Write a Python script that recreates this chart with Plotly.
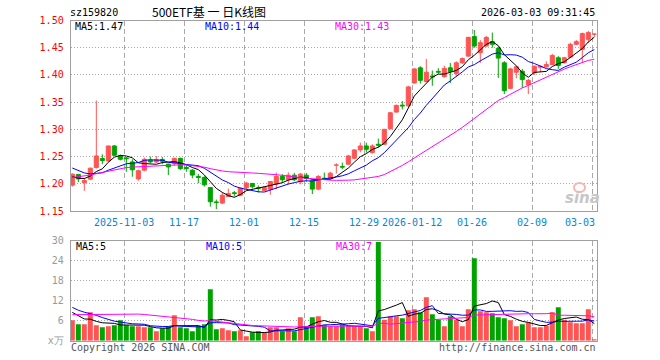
import plotly.graph_objects as go
import pandas as pd

# ---------------- data ----------------
tick_index = [9, 19, 29, 39, 49, 57, 67, 77, 87]
tick_labels = ["2025-11-03", "11-17", "12-01", "12-15", "12-29",
               "2026-01-12", "01-26", "02-09", "03-03"]

opens = [1.1975, 1.217, 1.202, 1.2085, 1.2298, 1.2463, 1.242, 1.2695, 1.2512, 1.2475,
         1.2402, 1.209, 1.225, 1.2433, 1.240, 1.2445, 1.236, 1.2378, 1.2467, 1.230,
         1.225, 1.2135, 1.2115, 1.193, 1.1667, 1.1645, 1.1767, 1.1835, 1.179, 1.1925,
         1.2006, 1.1927, 1.1878, 1.190, 1.1994, 1.2134, 1.2073, 1.2158, 1.2036, 1.2158,
         1.2055, 1.1902, 1.2103, 1.2097, 1.2341, 1.2317, 1.236, 1.2469, 1.2622, 1.2695,
         1.2573, 1.2725, 1.2725, 1.3012, 1.3317, 1.3445, 1.3432, 1.3852, 1.413, 1.3877,
         1.398, 1.4065, 1.397, 1.413, 1.4025, 1.4222, 1.4346, 1.4704, 1.4407, 1.4531,
         1.4611, 1.4488, 1.4222, 1.3753, 1.4049, 1.4068, 1.3821, 1.4037, 1.4142, 1.4148,
         1.4191, 1.4315, 1.4222, 1.4327, 1.4562, 1.4469, 1.4654, 1.4747]
highs = [1.219, 1.218, 1.210, 1.230, 1.353, 1.254, 1.270, 1.2713, 1.2536, 1.249,
         1.245, 1.226, 1.248, 1.250, 1.251, 1.249, 1.237, 1.248, 1.248, 1.234,
         1.227, 1.218, 1.214, 1.194, 1.171, 1.184, 1.191, 1.187, 1.193, 1.2036,
         1.201, 1.197, 1.196, 1.205, 1.2207, 1.2177, 1.221, 1.220, 1.220, 1.220,
         1.207, 1.216, 1.2207, 1.222, 1.2378, 1.239, 1.253, 1.2634, 1.2756, 1.2756,
         1.2725, 1.283, 1.301, 1.332, 1.3457, 1.352, 1.380, 1.412, 1.416, 1.4296,
         1.408, 1.4124, 1.417, 1.422, 1.425, 1.432, 1.470, 1.4827, 1.464, 1.4716,
         1.4778, 1.452, 1.4253, 1.413, 1.4173, 1.411, 1.3926, 1.4173, 1.4173, 1.425,
         1.4389, 1.4346, 1.4333, 1.4593, 1.4642, 1.4778, 1.4809, 1.476]
lows = [1.195, 1.203, 1.187, 1.2067, 1.228, 1.236, 1.241, 1.251, 1.243, 1.222,
        1.213, 1.2055, 1.223, 1.238, 1.238, 1.236, 1.216, 1.233, 1.225, 1.222,
        1.210, 1.2012, 1.195, 1.158, 1.1536, 1.163, 1.176, 1.177, 1.177, 1.190,
        1.1915, 1.184, 1.186, 1.180, 1.190, 1.2012, 1.199, 1.205, 1.199, 1.204,
        1.181, 1.188, 1.207, 1.208, 1.2189, 1.2268, 1.235, 1.245, 1.258, 1.257,
        1.2555, 1.267, 1.271, 1.300, 1.331, 1.3366, 1.342, 1.384, 1.384, 1.3865,
        1.380, 1.4019, 1.3945, 1.385, 1.3975, 1.420, 1.433, 1.450, 1.4222, 1.452,
        1.450, 1.3945, 1.3648, 1.374, 1.3938, 1.376, 1.3648, 1.400, 1.405, 1.413,
        1.418, 1.4111, 1.421, 1.4315, 1.455, 1.4222, 1.4593, 1.470]
closes = [1.2177, 1.209, 1.206, 1.2286, 1.2512, 1.2426, 1.2695, 1.2524, 1.245, 1.246,
          1.2256, 1.224, 1.245, 1.2402, 1.2445, 1.2415, 1.231, 1.2467, 1.228, 1.228,
          1.216, 1.2115, 1.198, 1.167, 1.1655, 1.179, 1.1822, 1.182, 1.192, 1.2012,
          1.1945, 1.1915, 1.1933, 1.2042, 1.2134, 1.2073, 1.2158, 1.2073, 1.2177, 1.2097,
          1.1902, 1.2134, 1.2085, 1.2195, 1.2347, 1.2305, 1.2512, 1.2622, 1.2695, 1.2634,
          1.2695, 1.2707, 1.300, 1.3305, 1.3439, 1.3427, 1.378, 1.4111, 1.390, 1.405,
          1.396, 1.405, 1.412, 1.4062, 1.4222, 1.430, 1.469, 1.4531, 1.4593, 1.469,
          1.4562, 1.4309, 1.371, 1.4111, 1.4148, 1.3914, 1.390, 1.416, 1.416, 1.4191,
          1.4358, 1.4173, 1.4315, 1.4562, 1.4611, 1.4759, 1.4778, 1.4753]
volumes = [6.1, 4.9, 4.9, 8.5, 4.6, 4.0, 4.3, 4.6, 6.1, 4.6,
           4.3, 4.3, 4.0, 4.0, 2.8, 3.7, 4.3, 7.6, 4.0, 3.7,
           2.8, 4.5, 4.9, 15.4, 3.4, 3.7, 3.1, 2.8, 3.1, 1.3,
           2.5, 2.8, 2.5, 4.0, 4.0, 2.8, 3.7, 2.8, 7.0, 4.3,
           7.0, 7.3, 4.7, 4.3, 4.3, 4.8, 4.3, 4.3, 4.3, 3.7,
           2.8, 29.6, 6.3, 7.3, 7.3, 6.7, 9.1, 9.4, 8.5, 13.0,
           7.9, 6.3, 4.3, 7.3, 6.3, 4.3, 9.4, 24.7, 8.8, 8.5,
           8.2, 7.0, 6.7, 6.1, 4.3, 4.9, 5.5, 4.0, 4.0, 4.5,
           8.5, 10.0, 6.3, 5.5, 5.2, 5.2, 9.4, 0.4]

# sessions before the visible window (estimated from where the MA lines start)
prior_closes = [1.165, 1.170, 1.172, 1.175, 1.178, 1.180, 1.183, 1.186, 1.193,
                1.200, 1.208, 1.215, 1.212, 1.220, 1.225, 1.230, 1.228, 1.235, 1.238, 1.243,
                1.250, 1.255, 1.248, 1.240, 1.232,
                1.222, 1.210, 1.205, 1.210]
prior_volumes = [4.2, 4.8, 4.5, 4.0, 5.0, 4.6, 4.3, 4.9, 4.4, 4.2, 4.6,
                 7.5, 9.0, 11.2, 8.4, 10.5, 9.8, 8.6, 10.1, 9.4,
                 13.5, 10.8, 12.6, 9.9, 10.7,
                 10.2, 9.5, 8.8, 7.9]

price_ma_labels = ["MA5:1.47", "MA10:1.44", "MA30:1.43"]
vol_ma_labels = ["MA5:5", "MA10:5", "MA30:7"]
price_ticks = [1.15, 1.20, 1.25, 1.30, 1.35, 1.40, 1.45, 1.50]
vol_ticks = [0, 6, 12, 18, 24, 30]
vol_tick_text = ["x万", "6", "12", "18", "24", "30"]

# ---------------- styling ----------------
W, H = 660, 360
RED = "#ff5454"
GREEN = "#00a400"
GRID = "#a9a9a9"
BORDER = "#a0a0a0"
MONO = "DejaVu Sans Mono"
MA_COLORS = ["#000000", "#0000ff", "#ff00ff"]
WINDOWS = [5, 10, 30]


def px(x):
    return x / W


def py(y):
    return 1 - y / H


n = len(closes)
idx = list(range(n))
up = [c >= o for o, c in zip(opens, closes)]

c_all = pd.Series(prior_closes + closes)
v_all = pd.Series(prior_volumes + volumes)
np_ = len(prior_closes)
price_ma = [c_all.rolling(w).mean().iloc[np_:].tolist() for w in WINDOWS]
vol_ma = [v_all.rolling(w).mean().iloc[np_:].tolist() for w in WINDOWS]

fig = go.Figure()

# wicks
for flag, col in ((True, RED), (False, GREEN)):
    xs, ys = [], []
    for i in idx:
        if up[i] == flag:
            xs += [i, i, None]
            ys += [lows[i], highs[i], None]
    fig.add_trace(go.Scatter(x=xs, y=ys, mode="lines", line=dict(color=col, width=1),
                             hoverinfo="skip", xaxis="x", yaxis="y"))

# bodies
for flag, col in ((True, RED), (False, GREEN)):
    sel = [i for i in idx if up[i] == flag]
    fig.add_trace(go.Bar(
        x=sel,
        y=[abs(closes[i] - opens[i]) for i in sel],
        base=[min(opens[i], closes[i]) for i in sel],
        width=0.68, marker=dict(color=col, line=dict(color=col, width=1)),
        hoverinfo="skip", xaxis="x", yaxis="y"))

# price MAs
for vals, col in zip(price_ma, MA_COLORS):
    fig.add_trace(go.Scatter(x=idx, y=vals, mode="lines", line=dict(color=col, width=1),
                             hoverinfo="skip", xaxis="x", yaxis="y"))

# volume bars
for flag, col in ((True, RED), (False, GREEN)):
    sel = [i for i in idx if up[i] == flag]
    fig.add_trace(go.Bar(x=sel, y=[volumes[i] for i in sel], width=0.83,
                         marker=dict(color=col, line=dict(width=0)),
                         hoverinfo="skip", xaxis="x2", yaxis="y2"))

# volume MAs
for vals, col in zip(vol_ma, MA_COLORS):
    fig.add_trace(go.Scatter(x=idx, y=vals, mode="lines", line=dict(color=col, width=1),
                             hoverinfo="skip", xaxis="x2", yaxis="y2"))

X0, X1 = 70.7, 596.7
xdom = [px(X0), px(X1)]
grid_x = [t - 0.33 for t in tick_index]
xr = [-0.27, n - 1 + 0.4]

common_x = dict(domain=xdom, range=xr, tickvals=grid_x, showticklabels=False,
                showgrid=True, gridcolor=GRID, griddash="5px,3px", gridwidth=1,
                zeroline=False, showline=True, mirror=True, linecolor=BORDER,
                linewidth=1, ticks="")

fig.update_layout(
    width=W, height=H,
    margin=dict(l=0, r=0, t=0, b=0, autoexpand=False),
    paper_bgcolor="white", plot_bgcolor="white",
    showlegend=False, barmode="overlay",
    xaxis=dict(anchor="y", **common_x),
    xaxis2=dict(anchor="y2", **common_x),
    yaxis=dict(domain=[py(211), py(20.5)], range=[1.15, 1.50], anchor="x",
               tickvals=price_ticks, ticktext=[f"{v:.2f}" for v in price_ticks],
               tickfont=dict(family=MONO, size=10, color="#ff0000"),
               showgrid=True, gridcolor=GRID, griddash="1px,2px", gridwidth=1,
               zeroline=False, showline=True, mirror=True, linecolor=BORDER, linewidth=1,
               ticks="outside", ticklen=4, tickcolor="rgba(0,0,0,0)"),
    yaxis2=dict(domain=[py(340.7), py(240.7)], range=[0, 30], anchor="x2",
                tickvals=vol_ticks, ticktext=vol_tick_text,
                tickfont=dict(family=MONO, size=10, color="#999999"),
                showgrid=True, gridcolor=GRID, griddash="1px,2px", gridwidth=1,
                zeroline=False, showline=True, mirror=True, linecolor=BORDER, linewidth=1,
                ticks="outside", ticklen=4, tickcolor="rgba(0,0,0,0)"),
)

ann = []


def text(x, y, s, color="#000000", size=10, anchor="left", family=MONO, **kw):
    ann.append(dict(x=px(x), y=py(y), xref="paper", yref="paper", text=s, showarrow=False,
                    xanchor=anchor, yanchor="middle",
                    font=dict(family=family, size=size, color=color, **kw)))


# header
text(68, 12.5, "sz159820")
text(150, 12, "500ETF基 一 日K线图", size=12, family="Noto Sans CJK SC")
text(597, 12.5, "2026-03-03 09:31:45", anchor="right")

# MA labels
for lbl, x, col in zip(price_ma_labels, [73, 203, 333], MA_COLORS):
    text(x, 26.5, lbl, color=col)
for lbl, x, col in zip(vol_ma_labels, [74, 204, 334], MA_COLORS):
    text(x, 246.5, lbl, color=col)

# date labels (under the price panel)
for t, lab in zip(tick_index, tick_labels):
    xpix = X0 + (t - 0.33 - xr[0]) / (xr[1] - xr[0]) * (X1 - X0)
    if xpix + len(lab) * 3 > X1:
        text(X1, 222, lab, color="#0a86d0", anchor="right")
    else:
        text(xpix, 222, lab, color="#0a86d0", anchor="center")

# footer
text(69, 347, "Copyright 2026 SINA.COM", color="#555555")
text(598, 347, "http://finance.sina.com.cn", color="#555555", anchor="right")

# sina watermark
text(582, 198, "sina", color="#c6c6c6", size=15, anchor="center",
     family="DejaVu Sans", weight="bold", style="italic")

fig.update_layout(annotations=ann)
fig.add_shape(type="circle", xref="paper", yref="paper",
              x0=px(574), x1=px(585), y0=py(192), y1=py(183),
              line=dict(color="#f2b6b6", width=2))

fig.write_html("out.html",
               config={"displayModeBar": False, "staticPlot": True},
               post_script="document.body.style.margin='0';document.body.style.overflow='hidden';")
